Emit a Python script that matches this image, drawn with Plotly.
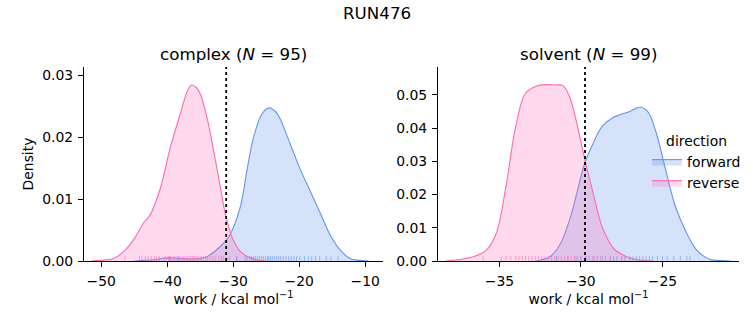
import plotly.graph_objects as go

W, H = 753, 325

# ---- data ----
# complex phase KDE curves
cx_rev_x = [-51.5, -50.2, -48.1, -46.6, -45.1, -43.6, -42.6, -41.1, -39.5, -38.0, -36.9, -36.3, -35.6, -35.0, -34.0, -32.5, -31.2, -30.2, -28.9, -26.9, -25.0]
cx_rev_y = [0.0, 0.0001, 0.0004, 0.0015, 0.0034, 0.0061, 0.0074, 0.0115, 0.0184, 0.0238, 0.0275, 0.0284, 0.0280, 0.0270, 0.0233, 0.0152, 0.0077, 0.0039, 0.0015, 0.0003, 0.0]
cx_fwd_x = [-45.0, -43.5, -42.0, -40.0, -38.0, -36.0, -34.0, -32.0, -30.5, -28.9, -27.9, -26.9, -25.6, -24.5, -23.5, -22.9, -21.4, -19.8, -18.3, -16.8, -15.3, -13.8, -12.3, -10.8, -9.5]
cx_fwd_y = [0.0, 0.0001, 0.0002, 0.0005, 0.0004, 0.0003, 0.0007, 0.0023, 0.0042, 0.0088, 0.0147, 0.0200, 0.0238, 0.0247, 0.0240, 0.0230, 0.0190, 0.0147, 0.0112, 0.0077, 0.0042, 0.0018, 0.0004, 0.0001, 0.0]
cx_rev_rug = [-46.4, -44.2, -43.8, -43.3, -42.9, -42.4, -41.9, -41.6, -40.3, -39.8, -39.5, -39.1, -38.8, -38.5, -38.2, -37.9, -37.6, -37.4, -37.1, -36.9, -36.6, -36.4, -36.2, -36.0, -35.8, -35.5, -35.3, -35.0, -34.8, -34.5, -34.2, -33.9, -33.5, -33.1, -32.7, -32.2, -31.5, -30.6, -29.4]
cx_fwd_rug = [-41.2, -39.6, -38.3, -31.8, -29.5, -28.2, -27.9, -27.5, -27.2, -26.9, -26.6, -26.3, -26.0, -25.7, -25.4, -25.1, -24.8, -24.6, -24.3, -24.0, -23.7, -23.4, -23.1, -22.8, -22.4, -22.0, -21.6, -21.2, -20.8, -20.4, -19.9, -19.2, -18.6, -18.1, -17.5, -16.9, -15.9, -15.2, -14.1]
cx_dg = -31.06

# solvent phase KDE curves
sv_rev_x = [-38.3, -37.9, -36.6, -35.8, -35.2, -34.6, -34.0, -33.4, -32.7, -32.1, -31.6, -31.1, -30.7, -30.3, -29.8, -29.3, -28.7, -28.0, -27.2, -26.4, -25.6]
sv_rev_y = [0.0, 0.0002, 0.0013, 0.0033, 0.0083, 0.0224, 0.0405, 0.0505, 0.0527, 0.0531, 0.0530, 0.0528, 0.0495, 0.0425, 0.0314, 0.0214, 0.0103, 0.0038, 0.0013, 0.0003, 0.0]
sv_fwd_x = [-32.8, -32.5, -31.9, -31.3, -30.7, -30.2, -29.8, -29.3, -28.7, -28.1, -27.6, -27.0, -26.4, -25.9, -25.4, -24.8, -24.2, -23.5, -22.9, -22.1, -21.3, -20.8]
sv_fwd_y = [0.0, 0.0002, 0.0013, 0.0048, 0.0123, 0.0214, 0.0289, 0.0349, 0.0405, 0.0430, 0.0440, 0.0450, 0.0463, 0.0450, 0.0389, 0.0274, 0.0164, 0.0083, 0.0033, 0.0005, 0.0001, 0.0]
sv_rev_rug = [-36.0, -34.9, -34.6, -34.3, -34.0, -33.8, -33.6, -33.4, -33.2, -33.0, -32.8, -32.6, -32.4, -32.2, -32.0, -31.8, -31.6, -31.4, -31.2, -31.0, -30.8, -30.6, -30.4, -30.2, -30.0, -29.7, -29.3, -28.8, -28.2, -27.5]
sv_fwd_rug = [-31.5, -30.8, -30.3, -30.0, -29.7, -29.5, -29.2, -29.0, -28.7, -28.5, -28.2, -28.0, -27.8, -27.5, -27.3, -27.0, -26.8, -26.6, -26.4, -26.2, -26.0, -25.8, -25.6, -25.3, -25.0, -24.7, -24.3, -23.9, -23.5, -23.3]
sv_dg = -29.75

cx_xticks = [-50, -40, -30, -20, -10]
cx_yticks = [0.0, 0.01, 0.02, 0.03]
sv_xticks = [-35, -30, -25]
sv_yticks = [0.0, 0.01, 0.02, 0.03, 0.04, 0.05]

FWD = "#6495ED"
REV = "#FF69B4"
FWD_FILL = "rgba(100,149,237,0.27)"
REV_FILL = "rgba(255,105,180,0.25)"

cx_xrange = [-52.6, -7.3]
cx_yrange = [0, 0.0313]
sv_xrange = [-38.77, -20.3]
sv_yrange = [0, 0.0584]

fig = go.Figure()


def add_panel(xa, ya, fx, fy, rx, ry, frug, rrug, dg, yr, showleg):
    fig.add_trace(go.Scatter(x=fx, y=fy, mode="lines", fill="tozeroy",
                             line=dict(color=FWD, width=1.1), fillcolor=FWD_FILL,
                             name="forward", legendgroup="forward", showlegend=showleg,
                             xaxis=xa, yaxis=ya, line_shape="spline"))
    fig.add_trace(go.Scatter(x=rx, y=ry, mode="lines", fill="tozeroy",
                             line=dict(color=REV, width=1.1), fillcolor=REV_FILL,
                             name="reverse", legendgroup="reverse", showlegend=showleg,
                             xaxis=xa, yaxis=ya, line_shape="spline"))
    h = 0.025 * yr[1]
    for vals, col in ((frug, "rgba(100,149,237,0.6)"), (rrug, "rgba(255,105,180,0.6)")):
        xs, ys = [], []
        for v in vals:
            xs += [v, v, None]
            ys += [0, h, None]
        fig.add_trace(go.Scatter(x=xs, y=ys, mode="lines", line=dict(color=col, width=1),
                                 showlegend=False, hoverinfo="skip", xaxis=xa, yaxis=ya))
    fig.add_trace(go.Scatter(x=[dg, dg], y=[0, yr[1]], mode="lines",
                             line=dict(color="black", width=1.8, dash="dot"),
                             showlegend=False, xaxis=xa, yaxis=ya))


add_panel("x", "y", cx_fwd_x, cx_fwd_y, cx_rev_x, cx_rev_y, cx_fwd_rug, cx_rev_rug, cx_dg, cx_yrange, False)
add_panel("x2", "y2", sv_fwd_x, sv_fwd_y, sv_rev_x, sv_rev_y, sv_fwd_rug, sv_rev_rug, sv_dg, sv_yrange, True)

FONT = "DejaVu Sans"
FS = 13.9
TFS = 16.7
axis_common = dict(showline=True, linecolor="black", linewidth=1.1, ticks="outside",
                   ticklen=5, tickwidth=1.1, tickcolor="black", showgrid=False,
                   zeroline=False, tickfont=dict(size=FS, color="black", family=FONT),
                   mirror=False, ticklabelstandoff=2, automargin=False)

ydom = [(325 - 261) / H, (325 - 67) / H]
xlabel = "work / kcal mol<sup>−1</sup>"

fig.update_layout(
    width=W, height=H,
    margin=dict(l=0, r=0, t=0, b=0, autoexpand=False),
    paper_bgcolor="white", plot_bgcolor="white",
    font=dict(family=FONT, color="black", size=FS),
    xaxis=dict(domain=[84 / W, 383 / W], range=cx_xrange, tickvals=cx_xticks,
               ticktext=[f"−{abs(v)}" for v in cx_xticks], anchor="y",
               title=dict(text=xlabel, font=dict(size=FS), standoff=5), **axis_common),
    yaxis=dict(domain=ydom, range=cx_yrange, tickvals=cx_yticks,
               ticktext=[f"{v:.2f}" for v in cx_yticks], anchor="x",
               title=dict(text="Density", font=dict(size=FS), standoff=5), **axis_common),
    xaxis2=dict(domain=[438 / W, 739 / W], range=sv_xrange, tickvals=sv_xticks,
                ticktext=[f"−{abs(v)}" for v in sv_xticks], anchor="y2",
                title=dict(text=xlabel, font=dict(size=FS), standoff=5), **axis_common),
    yaxis2=dict(domain=ydom, range=sv_yrange, tickvals=sv_yticks,
                ticktext=[f"{v:.2f}" for v in sv_yticks], anchor="x2", **axis_common),
    legend=dict(x=647 / W, y=1 - 128 / H, xanchor="left", yanchor="top",
                bgcolor="rgba(0,0,0,0)", font=dict(size=FS, family=FONT),
                title=dict(text="direction", font=dict(size=FS), side="top center"),
                itemwidth=30, tracegroupgap=0),
    showlegend=True,
    annotations=[
        dict(text="RUN476", x=376.5 / W, y=1 - 13 / H, xref="paper", yref="paper",
             showarrow=False, font=dict(size=TFS, family=FONT), xanchor="center", yanchor="middle"),
        dict(text="complex (<i>N</i> = 95)", x=233.5 / W, y=1 - 54 / H, xref="paper", yref="paper",
             showarrow=False, font=dict(size=TFS, family=FONT), xanchor="center", yanchor="middle"),
        dict(text="solvent (<i>N</i> = 99)", x=588.5 / W, y=1 - 54 / H, xref="paper", yref="paper",
             showarrow=False, font=dict(size=TFS, family=FONT), xanchor="center", yanchor="middle"),
    ],
)

fig.write_html("out.html")
